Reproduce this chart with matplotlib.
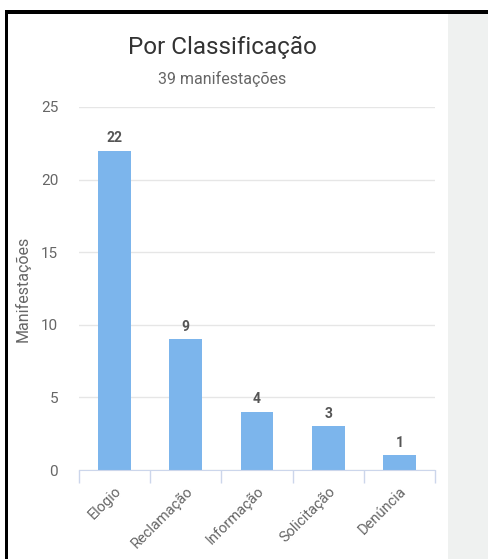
import numpy as np
import matplotlib.pyplot as plt
from matplotlib.patches import Rectangle

plt.rcParams['font.family'] = ['Roboto', 'DejaVu Sans']

# data
categories = ['Elogio', 'Reclamação', 'Informação', 'Solicitação', 'Denúncia']
values = [22, 9, 4, 3, 1]
y_ticks = [0, 5, 10, 15, 20, 25]
title = 'Por Classificação'
subtitle = '39 manifestações'
y_label = 'Manifestações'

W, H = 489, 559
fig = plt.figure(figsize=(W / 100, H / 100), dpi=100)

# frame and grey side panel (pixel coords -> figure fractions)
def px(x0, y0, x1, y1):
    return (x0 / W, 1 - y1 / H, (x1 - x0) / W, (y1 - y0) / H)

for (x0, y0, x1, y1, c) in [(448, 13, 489, 559, '#eff1f0'),
                            (5, 10.5, 489, 13.5, '#000000'),
                            (5, 10.5, 8, 559, '#000000')]:
    l, b, w, h = px(x0, y0, x1, y1)
    fig.add_artist(Rectangle((l, b), w, h, transform=fig.transFigure,
                             color=c, lw=0, zorder=0))

# plot area: x 79..435, y 107..470
ax = fig.add_axes(px(79, 107, 435, 470))
x = np.arange(len(categories))
ax.bar(x, values, width=0.46, color='#7cb5ec', zorder=2)
ax.set_xlim(-0.5, len(categories) - 0.5)
ax.set_ylim(0, 25)

for xi, v in zip(x, values):
    ax.annotate(str(v), (xi, v), xytext=(0, 4), textcoords='offset points',
                ha='center', va='bottom', fontsize=10, fontweight='bold',
                color='#555555')

ax.set_yticks(y_ticks)
ax.set_yticklabels([str(t) for t in y_ticks], fontsize=11, color='#666666')
ax.tick_params(axis='y', length=0, pad=15)
ax.yaxis.grid(True, color='#e6e6e6', lw=1, zorder=0)
ax.set_axisbelow(True)

# category ticks between the bars
ax.set_xticks(np.arange(len(categories) + 1) - 0.5, minor=False)
ax.set_xticklabels([])
ax.tick_params(axis='x', length=9, color='#ccd6eb', width=1)
ax.set_xticks(x, minor=True)
ax.set_xticklabels(categories, minor=True, rotation=45, ha='right',
                   rotation_mode='anchor', fontsize=10.5, color='#666666')
ax.tick_params(axis='x', which='minor', length=0, pad=10)

for s in ['top', 'right', 'left']:
    ax.spines[s].set_visible(False)
ax.spines['bottom'].set_color('#ccd6eb')

ax.set_ylabel(y_label, fontsize=11.5, color='#666666', labelpad=7)

fig.text(222 / W, 1 - 47 / H, title, ha='center', va='center',
         fontsize=17.5, color='#333333')
fig.text(222 / W, 1 - 79 / H, subtitle, ha='center', va='center',
         fontsize=11.5, color='#666666')

fig.savefig('out.png', dpi=100)
